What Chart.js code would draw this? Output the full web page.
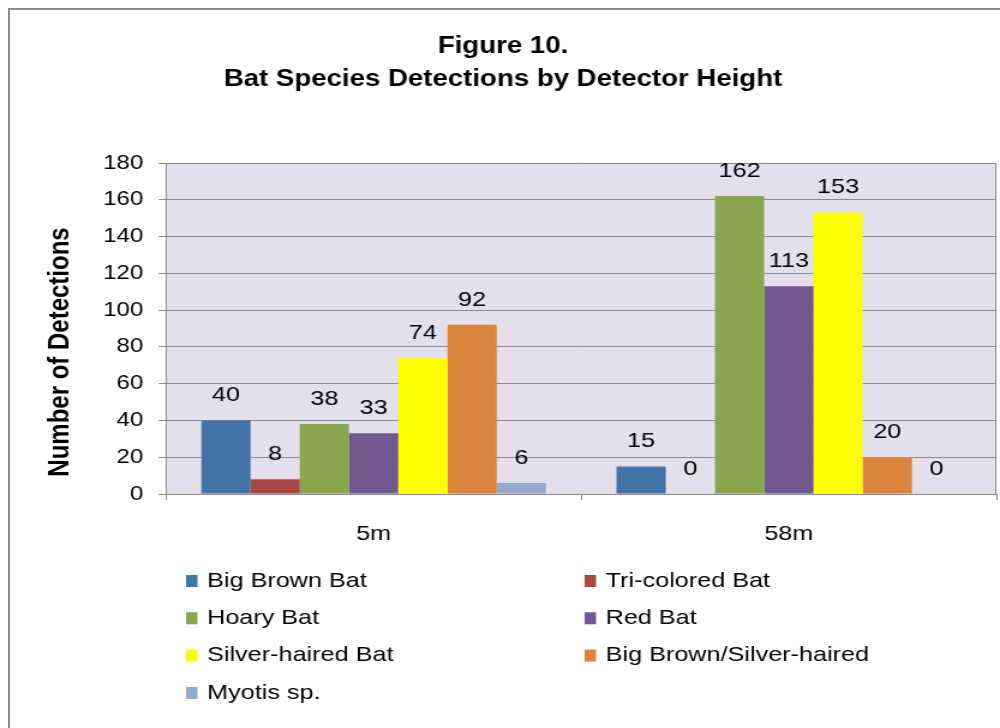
<!DOCTYPE html>
<html>
<head>
<meta charset="utf-8">
<script src="https://cdn.jsdelivr.net/npm/chart.js@4"></script>
<style>
  body { margin: 0; background: #fff; }
  #frame {
    position: absolute; left: 8px; top: 8px; width: 1100px; height: 800px;
    border-left: 2px solid #8a8a8a; border-top: 2px solid #8a8a8a;
  }
  #c { position: absolute; left: 0; top: 0; width: 1000px; height: 728px; }
</style>
</head>
<body>
<div id="frame"></div>
<!-- drawn at 833 wide, shown at 1000 wide: the reference is stretched sideways -->
<canvas id="c" width="833" height="728" style="width:1000px;height:728px"></canvas>
<script>
// Data
const categories = ['5m', '58m'];
const speciesNames = ['Big Brown Bat', 'Tri-colored Bat', 'Hoary Bat', 'Red Bat',
    'Silver-haired Bat', 'Big Brown/Silver-haired', 'Myotis sp.'];
const bigBrownBat = [40, 15];
const triColoredBat = [8, 0];
const hoaryBat = [38, 162];
const redBat = [33, 113];
const silverHairedBat = [74, 153];
const bigBrownSilverHaired = [92, 20];
const myotisSp = [6, 0];
const yMin = 0;
const yMax = 180;
const yStep = 20;

const seriesValues = [bigBrownBat, triColoredBat, hoaryBat, redBat,
    silverHairedBat, bigBrownSilverHaired, myotisSp];
const seriesColors = ['#4572A7', '#AA4643', '#89A54E', '#71588F', '#FFFF00', '#DB843D', '#93A9CF'];

const FONT = "'Liberation Sans', Arial, sans-serif";
const GRID = '#8a8a8a';
Chart.defaults.font.family = FONT;
Chart.defaults.color = '#000';

// Fondo del área de trazado
const plotBg = {
    id: 'plotBg',
    beforeDraw(chart) {
        const { ctx, chartArea: a } = chart;
        ctx.save();
        ctx.fillStyle = '#E4DFEC';
        ctx.fillRect(a.left, a.top, a.right - a.left, a.bottom - a.top);
        ctx.strokeStyle = GRID;
        ctx.lineWidth = 1;
        ctx.beginPath();
        ctx.moveTo(a.right - 0.5, a.top);
        ctx.lineTo(a.right - 0.5, a.bottom);
        ctx.stroke();
        ctx.restore();
    }
};

// Valores encima de las barras
const barValues = {
    id: 'barValues',
    afterDatasetsDraw(chart) {
        const ctx = chart.ctx;
        ctx.save();
        ctx.font = '21px ' + FONT;
        ctx.fillStyle = '#000';
        ctx.textAlign = 'center';
        ctx.textBaseline = 'middle';
        chart.data.datasets.forEach((ds, i) => {
            chart.getDatasetMeta(i).data.forEach((bar, j) => {
                ctx.fillText(String(ds.data[j]), bar.x, bar.y - 25);
            });
        });
        ctx.restore();
    }
};

// Título del eje Y y leyenda en dos columnas
const extras = {
    id: 'extras',
    afterDraw(chart) {
        const ctx = chart.ctx;
        ctx.save();
        ctx.fillStyle = '#000';
        ctx.font = 'bold 24px ' + FONT;
        ctx.textAlign = 'center';
        ctx.textBaseline = 'middle';
        ctx.translate(50, 352);
        ctx.rotate(-Math.PI / 2);
        ctx.fillText('Number of Detections', 0, 0);
        ctx.restore();

        ctx.save();
        ctx.font = '21px ' + FONT;
        ctx.textBaseline = 'middle';
        ctx.textAlign = 'left';
        const cols = [155, 487];
        chart.data.datasets.forEach((ds, i) => {
            const x = cols[i % 2];
            const y = 581 + Math.floor(i / 2) * 37.3;
            ctx.fillStyle = ds.backgroundColor;
            ctx.fillRect(x, y - 6, 9.5, 12);
            ctx.fillStyle = '#000';
            ctx.fillText(ds.label, x + 17.5, y);
        });
        ctx.restore();
    }
};

new Chart(document.getElementById('c'), {
    type: 'bar',
    data: {
        labels: categories,
        datasets: speciesNames.map((name, i) => ({
            label: name,
            data: seriesValues[i],
            backgroundColor: seriesColors[i],
            borderWidth: 0,
            categoryPercentage: 0.83,
            barPercentage: 1
        }))
    },
    options: {
        responsive: false,
        animation: false,
        devicePixelRatio: 1,
        layout: { padding: { left: 8, right: 3, top: 0, bottom: 0 } },
        plugins: {
            legend: { display: false },
            tooltip: { enabled: false },
            title: {
                display: true,
                text: ['Figure 10.', 'Bat Species Detections by Detector Height'],
                color: '#000',
                font: { size: 23, weight: 'bold', lineHeight: 1.435 },
                padding: { top: 30.5, bottom: 66.5 }
            }
        },
        scales: {
            x: {
                grid: { drawOnChartArea: false, offset: true, tickLength: 6, color: GRID },
                border: { color: GRID },
                ticks: { font: { size: 21 }, color: '#000', padding: 22 },
                afterFit(s) { s.height = 234; }
            },
            y: {
                min: yMin,
                max: yMax,
                grid: { color: GRID, tickLength: 6 },
                border: { color: GRID },
                ticks: { stepSize: yStep, font: { size: 20 }, color: '#000', padding: 13 },
                afterFit(s) { s.width = 130.3; }
            }
        }
    },
    plugins: [plotBg, barValues, extras]
});
</script>
</body>
</html>
